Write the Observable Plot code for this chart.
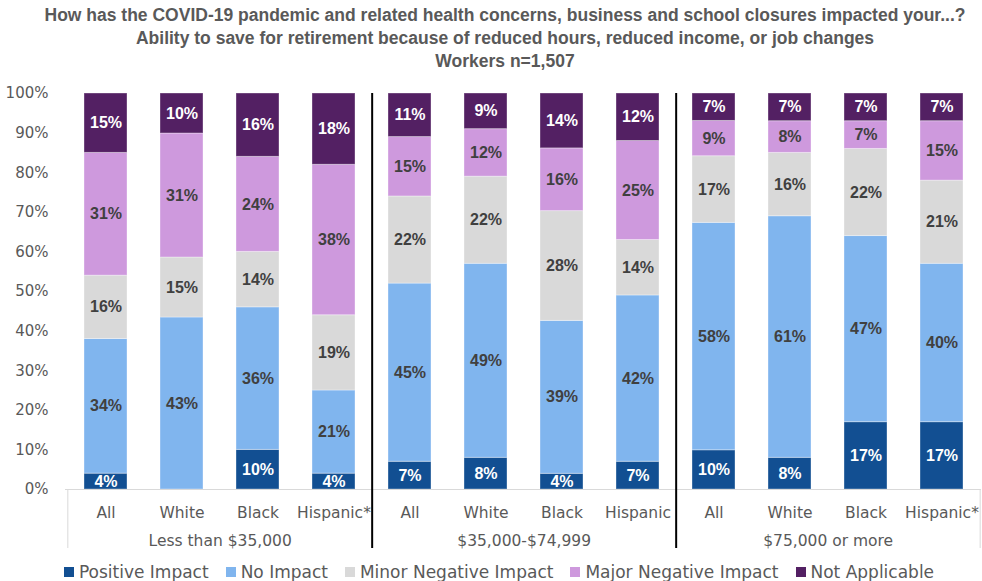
<!DOCTYPE html>
<html><head><meta charset="utf-8">
<script src="https://cdn.jsdelivr.net/npm/d3@7"></script>
<script src="https://cdn.jsdelivr.net/npm/@observablehq/plot@0.6"></script>
<style>
body{margin:0;background:#fff;width:982px;height:581px;overflow:hidden;font-family:"DejaVu Sans",sans-serif;}
#title{height:80px;box-sizing:border-box;padding-top:4px;padding-left:28px;text-align:center;font-family:"Liberation Sans",Arial,sans-serif;font-weight:bold;font-size:17.5px;line-height:23px;color:#595959;white-space:nowrap}
#chart svg{display:block}
#legend{display:flex;justify-content:center;padding-left:16px;height:24px;line-height:24px;font-size:17px;color:#595959;gap:17px;white-space:nowrap}
#legend .item{display:flex;align-items:center;gap:5px}
#legend .sw{width:10px;height:10px;display:inline-block}
</style></head>
<body>
<div id="title">How has the COVID-19 pandemic and related health concerns, business and school closures impacted your...?<br>Ability to save for retirement because of reduced hours, reduced income, or job changes<br>Workers n=1,507</div>
<div id="chart"></div>
<div id="legend"></div>
<script>
const incomeGroups = ["Less than $35,000", "$35,000-$74,999", "$75,000 or more"];
const raceLabels = [["All","White","Black","Hispanic*"],["All","White","Black","Hispanic"],["All","White","Black","Hispanic*"]];
const categories = ["Positive Impact","No Impact","Minor Negative Impact","Major Negative Impact","Not Applicable"];
const colors = ["#124F92","#80B5EE","#D9D9D9","#CE99DD","#532063"];
const positiveImpact = [4,0,10,4, 7,8,4,7, 10,8,17,17];
const noImpact       = [34,43,36,21, 45,49,39,42, 58,61,47,40];
const minorNegative  = [16,15,14,19, 22,22,28,14, 17,16,22,21];
const majorNegative  = [31,31,24,38, 15,12,16,25, 9,8,7,15];
const notApplicable  = [15,10,16,18, 11,9,14,12, 7,7,7,7];
const yTicks = [0,0.1,0.2,0.3,0.4,0.5,0.6,0.7,0.8,0.9,1];

const series = [positiveImpact, noImpact, minorNegative, majorNegative, notApplicable];
const keys = incomeGroups.flatMap((g, gi) => raceLabels[gi].map(r => g + "|" + r));
const data = [];
keys.forEach((k, i) => categories.forEach((c, ci) => data.push({key: k, category: c, value: series[ci][i]})));

const W = 982, H = 480, mL = 65, mR = 1, mT = 13, mB = 71;
const pIn = 0.44, pOut = 0.22;
const step = (W - mL - mR) / (keys.length - pIn + 2 * pOut);
const plotH = H - mT - mB;
const whiteCats = new Set(["Positive Impact", "Not Applicable"]);
const lbl = (d, white) => (d.value > 0 && whiteCats.has(d.category) === white) ? d.value + "%" : "";
const labelFont = "Liberation Sans, Arial, sans-serif";

const chart = Plot.plot({
  width: W, height: H,
  marginLeft: mL, marginRight: mR, marginTop: mT, marginBottom: mB,
  style: {fontFamily: "DejaVu Sans, sans-serif", fontSize: "15px", color: "#595959", background: "white"},
  x: {domain: keys, paddingInner: pIn, paddingOuter: pOut, label: null},
  y: {domain: [0, 1], label: null},
  color: {domain: categories, range: colors},
  marks: [
    Plot.barY(data, Plot.stackY({offset: "normalize", x: "key", y: "value", fill: "category", stroke: "white", strokeOpacity: 0.35, strokeWidth: 1})),
    Plot.ruleY([0], {stroke: "#D9D9D9"}),
    Plot.ruleX([keys[0]], {dx: -step / 2, stroke: "#D9D9D9", insetTop: plotH, insetBottom: -59}),
    Plot.ruleX([keys[keys.length - 1]], {dx: step / 2, stroke: "#D9D9D9", insetTop: plotH, insetBottom: -59}),
    Plot.ruleX([keys[3], keys[7]], {dx: step / 2, stroke: "black", strokeWidth: 2, insetBottom: -59}),
    Plot.text(data, Plot.stackY({offset: "normalize", x: "key", y: "value", text: d => lbl(d, false), fill: "#404040", fontWeight: "bold", fontSize: 16, fontFamily: labelFont})),
    Plot.text(data, Plot.stackY({offset: "normalize", x: "key", y: "value", text: d => lbl(d, true), fill: "white", fontWeight: "bold", fontSize: 16, fontFamily: labelFont})),
    Plot.axisY({ticks: yTicks, tickFormat: d3.format(".0%"), tickSize: 0, tickPadding: 17, fontSize: 15}),
    Plot.axisX({tickSize: 0, tickPadding: 17, tickFormat: k => k.split("|")[1], fontSize: 15.5}),
    Plot.text(incomeGroups, {x: (d, i) => keys[i * 4 + 1], frameAnchor: "bottom", dx: step / 2, dy: 56, text: d => d, fontSize: 15.5, fill: "#595959"})
  ]
});
document.getElementById("chart").appendChild(chart);

const legend = document.getElementById("legend");
categories.forEach((c, i) => {
  const it = document.createElement("div");
  it.className = "item";
  it.innerHTML = `<span class="sw" style="background:${colors[i]}"></span><span>${c}</span>`;
  legend.appendChild(it);
});
</script>
</body></html>
